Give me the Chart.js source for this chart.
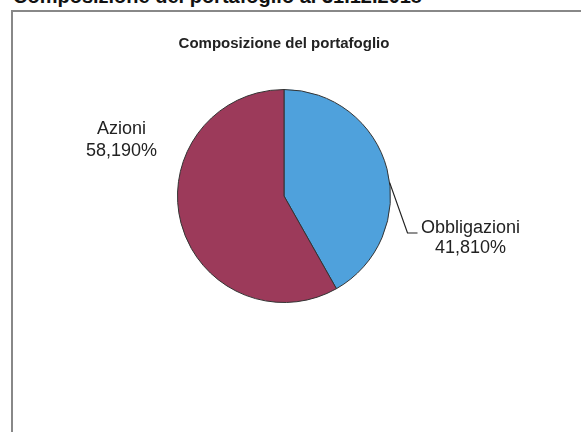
<!DOCTYPE html>
<html>
<head>
<meta charset="utf-8">
<script src="https://cdn.jsdelivr.net/npm/chart.js@4"></script>
<style>
  body { margin: 0; background: #fff; overflow: hidden; }
  #wrap { position: relative; width: 581px; height: 432px; overflow: hidden; }
  #heading {
    position: absolute; left: 13px; top: -15px; line-height: 20px;
    font: bold 20px "Liberation Sans", Arial, sans-serif; color: #111; white-space: nowrap;
  }
  #box {
    position: absolute; left: 11px; top: 10px; width: 700px; height: 600px;
    border-left: 2px solid #888; border-top: 2px solid #888;
  }
  #grafico { position: absolute; left: 0; top: 0; }
</style>
</head>
<body>
<div id="wrap">
  <div id="heading">Composizione del portafoglio al 31.12.2018</div>
  <div id="box"></div>
  <canvas id="grafico" width="581" height="432"></canvas>
</div>
<script>
const titolo = "Composizione del portafoglio";
const categorie = ["Obbligazioni", "Azioni"];
const valori = [41.81, 58.19];
const etichette = ["41,810%", "58,190%"];
const colori = ["#4fa1dc", "#9c3a5a"];

document.addEventListener("DOMContentLoaded", function () {
    const ctx = document.getElementById("grafico").getContext("2d");

    // etichette esterne in stile Excel
    const etichettePlugin = {
        id: "etichette",
        afterDatasetsDraw(chart) {
            const meta = chart.getDatasetMeta(0);
            const c = chart.ctx;
            c.save();
            c.font = '18px "Liberation Sans", Arial, sans-serif';
            c.fillStyle = "#222";
            c.textAlign = "center";
            c.textBaseline = "middle";
            meta.data.forEach((arc, i) => {
                const p = arc.getProps(["x", "y", "startAngle", "endAngle", "outerRadius"], true);
                const r = p.outerRadius;
                if (i === 0) {
                    const ang = p.startAngle + (p.endAngle - p.startAngle) * 0.55;
                    const sx = p.x + Math.cos(ang) * r;
                    const sy = p.y + Math.sin(ang) * r;
                    const ex = p.x + r + 17, ey = p.y + 37;
                    c.strokeStyle = "#222";
                    c.lineWidth = 1.2;
                    c.beginPath();
                    c.moveTo(sx, sy);
                    c.lineTo(ex, ey);
                    c.lineTo(ex + 10, ey);
                    c.stroke();
                    c.fillText(categorie[i], p.x + r + 80, p.y + 32);
                    c.fillText(etichette[i], p.x + r + 80, p.y + 52);
                } else {
                    c.fillText(categorie[i], p.x - r - 56, p.y - 67);
                    c.fillText(etichette[i], p.x - r - 56, p.y - 45);
                }
            });
            c.restore();
        }
    };

    new Chart(ctx, {
        type: "pie",
        data: {
            labels: categorie,
            datasets: [{
                data: valori,
                backgroundColor: colori,
                borderColor: "#333",
                borderWidth: 1
            }]
        },
        options: {
            responsive: false,
            animation: false,
            layout: { padding: { left: 100, right: 113, top: 0, bottom: 129 } },
            plugins: {
                legend: { display: false },
                tooltip: { enabled: false },
                title: {
                    display: true,
                    text: titolo,
                    color: "#222",
                    font: { family: '"Liberation Sans", Arial, sans-serif', size: 15, weight: "bold" },
                    padding: { top: 35, bottom: 36 }
                }
            }
        },
        plugins: [etichettePlugin]
    });
});
</script>
</body>
</html>
